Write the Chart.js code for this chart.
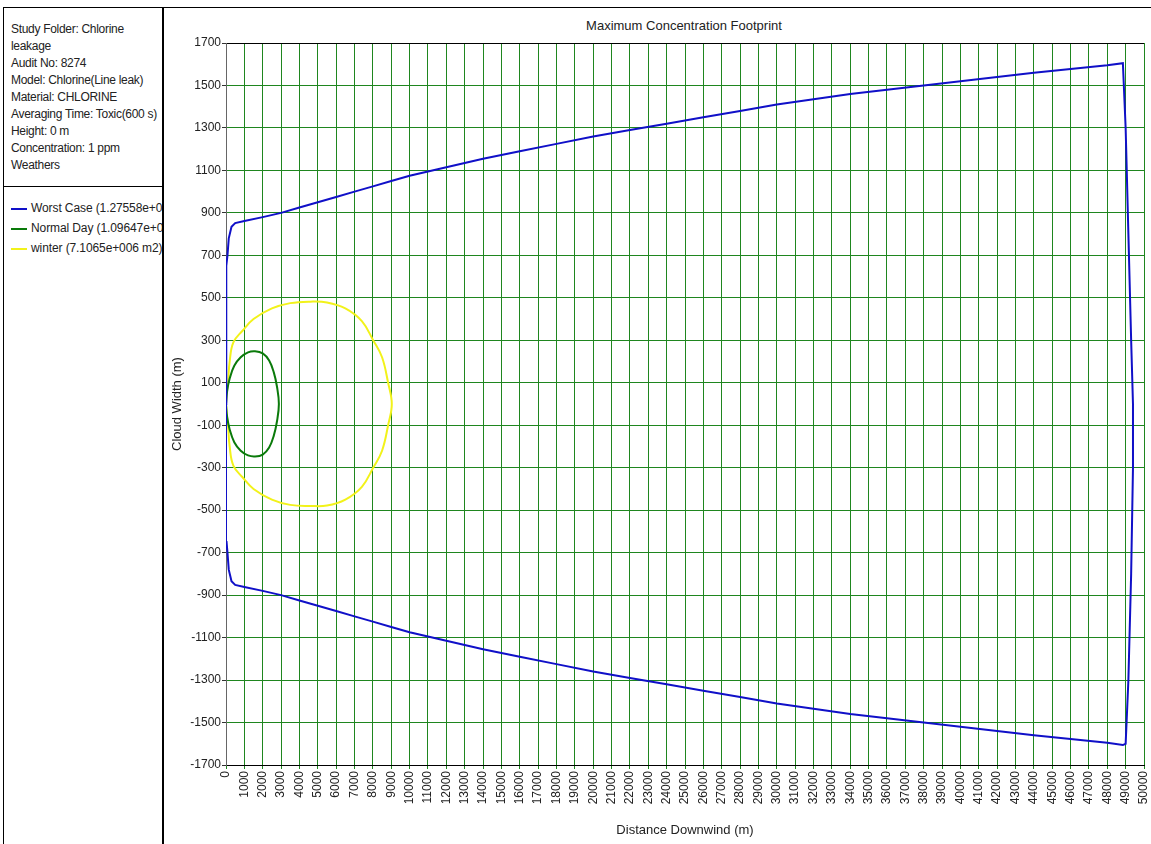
<!DOCTYPE html>
<html>
<head>
<meta charset="utf-8">
<script src="https://cdn.jsdelivr.net/npm/chart.js@4"></script>
<style>
  body { margin: 0; background: #fff; font-family: 'Liberation Sans', Arial, sans-serif; }
  #frame { position: absolute; left: 3px; top: 7px; width: 1148px; height: 836px; border-top: 1px solid #000; border-left: 1px solid #000; border-bottom: 1px solid #000; }
  #panel { position: absolute; left: 3px; top: 7px; width: 159px; height: 837px; border-right: 2px solid #000; overflow: hidden; }
  #info { position: absolute; left: 8px; top: 14px; font-size: 12px; line-height: 17px; color: #222; letter-spacing: -0.3px; }
  #sep { position: absolute; left: 0; top: 179px; width: 160px; border-top: 1px solid #000; }
  .leg { position: absolute; left: 8px; font-size: 12px; color: #222; white-space: nowrap; letter-spacing: -0.1px; }
  .leg span { display: inline-block; width: 16px; height: 2px; vertical-align: middle; margin-right: 4px; }
  #title { position: absolute; left: 484px; top: 18px; width: 400px; text-align: center; font-size: 13px; color: #222; }
  #wrap { position: absolute; left: 164px; top: 8px; width: 987px; height: 836px; }
</style>
</head>
<body>
<div id="frame"></div>
<div id="panel">
  <div id="info">
    Study Folder: Chlorine<br>leakage<br>Audit No: 8274<br>Model: Chlorine(Line leak)<br>Material: CHLORINE<br>Averaging Time: Toxic(600 s)<br>Height: 0 m<br>Concentration: 1 ppm<br>Weathers
  </div>
  <div id="sep"></div>
  <div class="leg" style="top:194px"><span style="background:#1010c8"></span>Worst Case (1.27558e+008 m2)</div>
  <div class="leg" style="top:214px"><span style="background:#0a7a0a"></span>Normal Day (1.09647e+006 m2)</div>
  <div class="leg" style="top:234px"><span style="background:#f2f21a"></span>winter (7.1065e+006 m2)</div>
</div>
<div id="title">Maximum Concentration Footprint</div>
<div id="wrap"><canvas id="myChart" width="987" height="836"></canvas></div>
<script>
// tick labels
const xTicks = [0,1000,2000,3000,4000,5000,6000,7000,8000,9000,10000,11000,12000,13000,14000,15000,16000,17000,18000,19000,20000,21000,22000,23000,24000,25000,26000,27000,28000,29000,30000,31000,32000,33000,34000,35000,36000,37000,38000,39000,40000,41000,42000,43000,44000,45000,46000,47000,48000,49000,50000]
const yTicks = [-1700,-1500,-1300,-1100,-900,-700,-500,-300,-100,100,300,500,700,900,1100,1300,1500,1700]

// Worst Case footprint
const worstX = [0,0,30,80,150,300,500,1000,2000,3000,4000,5000,6000,7000,8000,9000,10000,12000,14000,16000,18000,20000,22000,24000,26000,28000,30000,32000,34000,36000,38000,40000,42000,44000,46000,48000,48850,49000,49150,49300,49400,49400,49300,49150,49000,48850,48000,46000,44000,42000,40000,38000,36000,34000,32000,30000,28000,26000,24000,22000,20000,18000,16000,14000,12000,10000,9000,8000,7000,6000,5000,4000,3000,2000,1000,500,300,150,80,30,0,0]
const worstY = [0,600,650,700,780,835,852,862,880,900,925,950,975,1000,1025,1050,1075,1115,1155,1190,1225,1260,1290,1320,1350,1380,1410,1435,1460,1480,1500,1520,1540,1560,1578,1595,1605,1300,800,300,0,-300,-800,-1300,-1600,-1606,-1595,-1578,-1560,-1540,-1520,-1500,-1480,-1460,-1435,-1410,-1380,-1350,-1320,-1290,-1260,-1225,-1190,-1155,-1115,-1075,-1050,-1025,-1000,-975,-950,-925,-900,-880,-862,-852,-835,-780,-700,-650,-600,0]

// Normal Day footprint
const normalX = [0,60,200,450,800,1200,1580,2000,2350,2600,2780,2880,2780,2600,2350,2000,1580,1200,800,450,200,60,0]
const normalY = [0,60,120,180,220,243,248,238,205,150,80,0,-80,-150,-205,-238,-247,-242,-220,-180,-120,-60,0]

// winter footprint
const winterX = [0,50,110,200,400,900,1500,2500,3500,4600,5500,6500,7400,8030,8500,8830,9030,8830,8500,8030,7400,6500,5500,4600,3500,2500,1500,900,400,200,110,50,0]
const winterY = [0,60,100,200,290,345,400,450,475,482,478,450,390,298,220,100,0,-100,-220,-298,-390,-450,-478,-480,-475,-450,-400,-345,-290,-200,-100,-60,0]

const toPts = (xs, ys) => xs.map((x, i) => ({ x: x, y: ys[i] }))

const font = { family: "'Liberation Sans', Arial, sans-serif", size: 12 }
const titleFont = { family: "'Liberation Sans', Arial, sans-serif", size: 13 }
const gridGreen = '#1f861f'

const ctx = document.getElementById('myChart').getContext('2d')
const myChart = new Chart(ctx, {
  type: 'scatter',
  data: {
    datasets: [{
      label: 'Worst Case',
      data: toPts(worstX, worstY),
      showLine: true,
      borderColor: '#1010c8',
      borderWidth: 2,
      pointRadius: 0,
      tension: 0
    }, {
      label: 'Normal Day',
      data: toPts(normalX, normalY),
      showLine: true,
      borderColor: '#0a7a0a',
      borderWidth: 2,
      pointRadius: 0,
      tension: 0.4
    }, {
      label: 'winter',
      data: toPts(winterX, winterY),
      showLine: true,
      borderColor: '#f2f21a',
      borderWidth: 2,
      pointRadius: 0,
      tension: 0.4
    }]
  },
  options: {
    responsive: false,
    animation: false,
    layout: { padding: { left: 0, right: 7, top: 35, bottom: 0 } },
    plugins: {
      legend: { display: false },
      tooltip: { enabled: false },
      title: { display: false }
    },
    scales: {
      x: {
        type: 'linear',
        min: 0,
        max: 50000,
        afterBuildTicks: s => { s.ticks = xTicks.map(v => ({ value: v })) },
        afterFit: s => { s.height = 79; s.paddingRight = 0; s.paddingLeft = 0 },
        ticks: {
          autoSkip: false,
          minRotation: 90,
          maxRotation: 90,
          padding: 2,
          color: '#222',
          font: font,
          callback: v => String(v)
        },
        grid: {
          color: ctx => ctx.tick && ctx.tick.value === 0 ? '#555' : gridGreen,
          tickColor: gridGreen,
          tickLength: 4
        },
        border: { color: '#000' },
        title: {
          display: true,
          text: 'Distance Downwind (m)',
          color: '#222',
          font: titleFont,
          padding: { top: 0, bottom: 6 }
        }
      },
      y: {
        type: 'linear',
        min: -1700,
        max: 1700,
        afterBuildTicks: s => { s.ticks = yTicks.map(v => ({ value: v })) },
        afterFit: s => { s.width = 62 },
        ticks: {
          padding: 1,
          color: '#222',
          font: font,
          callback: v => String(v)
        },
        grid: {
          color: ctx => ctx.tick && ctx.tick.value === 1700 ? '#000' : gridGreen,
          tickColor: '#333',
          tickLength: 4
        },
        border: { color: '#666' },
        title: {
          display: true,
          text: 'Cloud Width (m)',
          color: '#222',
          font: titleFont,
          padding: { top: 6, bottom: 0 }
        }
      }
    }
  }
})
</script>
</body>
</html>
